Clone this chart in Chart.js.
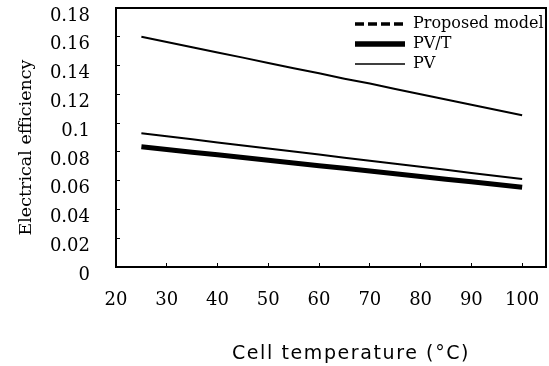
<!DOCTYPE html>
<html>
<head>
<meta charset="utf-8">
<script src="https://cdn.jsdelivr.net/npm/chart.js@4.4.1/dist/chart.umd.min.js"></script>
<style>
    html, body { margin: 0; padding: 0; background: #fff; }
    #wrap { width: 549px; height: 366px; position: relative; }
</style>
</head>
<body>
<div id="wrap"><canvas id="chartEficiencia"></canvas></div>
<script>
// dados
const temperaturas = [25, 30, 35, 40, 45, 50, 55, 60, 65, 70, 75, 80, 85, 90, 95, 100];
const proposedModel = [0.093, 0.0909, 0.0888, 0.0866, 0.0845, 0.0824, 0.0803, 0.0782, 0.076, 0.0739, 0.0718, 0.0697, 0.0676, 0.0654, 0.0633, 0.0612];
const pvtValues = [0.0836, 0.0817, 0.0798, 0.078, 0.0761, 0.0742, 0.0723, 0.0704, 0.0686, 0.0667, 0.0648, 0.0629, 0.061, 0.0592, 0.0573, 0.0554];
const pvValues = [0.16, 0.1564, 0.1527, 0.1491, 0.1455, 0.1418, 0.1382, 0.1346, 0.1309, 0.1275, 0.1237, 0.12, 0.1164, 0.1128, 0.1091, 0.1055];
const seriesLabels = ['Proposed model', 'PV/T', 'PV'];
const xTickValues = [20, 30, 40, 50, 60, 70, 80, 90, 100];
const yTickValues = [0, 0.02, 0.04, 0.06, 0.08, 0.1, 0.12, 0.14, 0.16, 0.18];

function toPoints(values) {
    return temperaturas.map((t, i) => ({ x: t, y: values[i] }));
}

Chart.defaults.font.family = "'DejaVu Serif', serif";
Chart.defaults.color = '#000';

// desloca o titulo do eixo e aplica espacamento entre letras
function tweakTitle(scale, dx, dy, spacing) {
    if (scale._tweaked) return;
    scale._tweaked = true;
    const orig = scale.drawTitle;
    scale.drawTitle = function () {
        const ctx = this.ctx;
        ctx.save();
        ctx.translate(dx, dy);
        ctx.letterSpacing = spacing;
        orig.call(this);
        ctx.restore();
    };
}

// moldura em volta da area do grafico + legenda no canto superior direito
const framePlugin = {
    id: 'frame',
    afterLayout(chart) {
        if (chart.legend) {
            chart.legend.left = chart.chartArea.right - 195;
            chart.legend.top = chart.chartArea.top + 4;
        }
        tweakTitle(chart.scales.x, 20, 0, '1.6px');
        tweakTitle(chart.scales.y, 0, 10, '0px');
    },
    afterDraw(chart) {
        const { ctx, chartArea: a } = chart;
        ctx.save();
        ctx.strokeStyle = '#000';
        ctx.lineWidth = 2;
        ctx.strokeRect(a.left, a.top, a.right - a.left, a.bottom - a.top);
        ctx.restore();
    }
};

const legendDash = [[9, 4], [], []];
const legendWidth = [3.5, 5.5, 1.5];

const axisGrid = { display: true, drawOnChartArea: false, drawTicks: true, tickLength: -4, color: '#000' };
const axisBorder = { display: true, color: '#000', width: 2 };

document.addEventListener('DOMContentLoaded', () => {
    const el = document.getElementById('chartEficiencia');
    new Chart(el, {
        type: 'line',
        data: {
            datasets: [{
                label: seriesLabels[0],
                data: toPoints(proposedModel),
                borderColor: '#000',
                backgroundColor: '#000',
                borderWidth: 2,
                pointRadius: 0
            }, {
                label: seriesLabels[1],
                data: toPoints(pvtValues),
                borderColor: '#000',
                backgroundColor: '#000',
                borderWidth: 5,
                pointRadius: 0
            }, {
                label: seriesLabels[2],
                data: toPoints(pvValues),
                borderColor: '#000',
                backgroundColor: '#000',
                borderWidth: 2,
                pointRadius: 0
            }]
        },
        options: {
            responsive: true,
            maintainAspectRatio: false,
            animation: false,
            layout: { padding: { top: 8, right: 3, left: 0, bottom: 0 } },
            plugins: {
                tooltip: { enabled: false },
                legend: {
                    position: 'chartArea',
                    align: 'start',
                    labels: {
                        boxWidth: 50,
                        boxHeight: 0,
                        padding: 4,
                        color: '#000',
                        font: { size: 16 },
                        generateLabels: chart => Chart.defaults.plugins.legend.labels.generateLabels(chart).map((item, i) => ({
                            ...item,
                            lineDash: legendDash[i],
                            lineWidth: legendWidth[i],
                            lineCap: 'butt'
                        }))
                    }
                }
            },
            scales: {
                x: {
                    type: 'linear',
                    min: 20,
                    max: 104.7,
                    afterBuildTicks: s => { s.ticks = xTickValues.map(v => ({ value: v })); },
                    afterFit: s => { s.height = 99; s.paddingLeft = 0; s.paddingRight = 0; },
                    border: axisBorder,
                    grid: axisGrid,
                    ticks: { color: '#000', font: { size: 18 }, padding: 27, maxRotation: 0, autoSkip: false },
                    title: {
                        display: true,
                        text: 'Cell temperature (°C)',
                        color: '#000',
                        font: { family: "'DejaVu Sans', sans-serif", size: 19 },
                        padding: { top: 0, bottom: 1 }
                    }
                },
                y: {
                    min: 0,
                    max: 0.18,
                    afterBuildTicks: s => { s.ticks = yTickValues.map(v => ({ value: v })); },
                    afterFit: s => { s.width = 116; s.paddingTop = 0; s.paddingBottom = 0; },
                    border: axisBorder,
                    grid: axisGrid,
                    ticks: { color: '#000', font: { size: 18 }, padding: 30, labelOffset: 8, callback: v => String(v) },
                    title: {
                        display: true,
                        text: 'Electrical efficiency',
                        color: '#000',
                        font: { size: 17.5 },
                        padding: { top: 16, bottom: 0 }
                    }
                }
            }
        },
        plugins: [framePlugin]
    });
});
</script>
</body>
</html>
